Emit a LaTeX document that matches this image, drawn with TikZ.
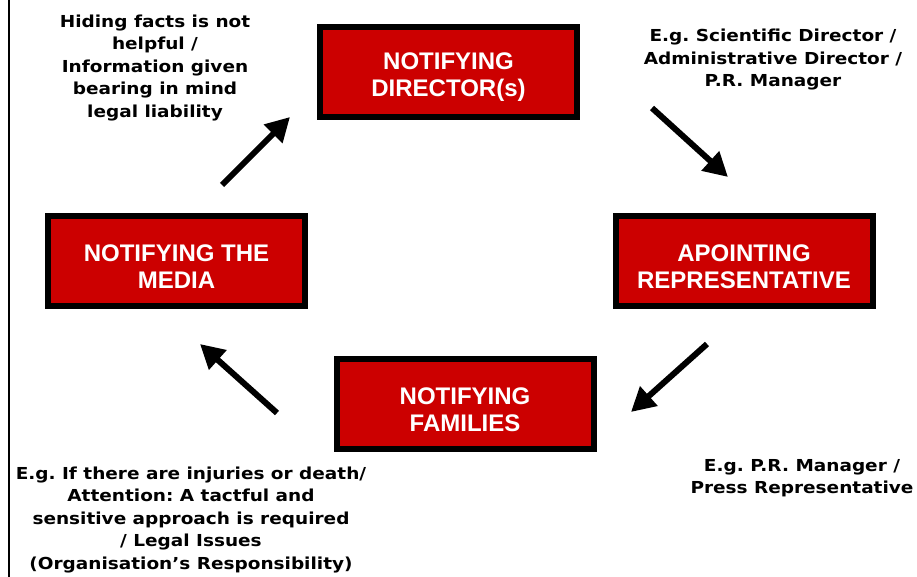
\documentclass[tikz,border=0pt]{standalone}
\usepackage{fontspec}
\setmainfont[FakeStretch=1.12]{DejaVu Sans}
\newfontfamily\boxfont{Liberation Sans}
\usetikzlibrary{arrows.meta}

\definecolor{boxred}{RGB}{204,0,0}
\newcommand{\topgap}{\rule{0pt}{28pt}}

\begin{document}
\frenchspacing
\begin{tikzpicture}[x=1pt, y=1pt,
	stage/.style={draw=black, fill=boxred, line width=6pt, rectangle,
		minimum width=257pt, minimum height=90pt, inner sep=0pt,
		align=center, text=white,
		font=\boxfont\bfseries\fontsize{24}{27}\selectfont},
	remark/.style={align=center, inner sep=0pt,
		font=\bfseries\fontsize{16.5}{22.5}\selectfont},
	flow/.style={line width=6pt, -{Triangle[length=24pt, width=25pt]}}]
	\useasboundingbox (0,0) rectangle (917,577);
	\draw[line width=2pt] (8.5,0) -- (8.5,577);

	\node[stage] (directors) at (448.5,505) {\topgap NOTIFYING\\DIRECTOR(s)};
	\node[stage] (represent) at (744,316)   {\topgap APOINTING\\REPRESENTATIVE};
	\node[stage] (families)  at (465,173)   {\topgap NOTIFYING\\FAMILIES};
	\node[stage] (media)     at (176.5,316) {\topgap NOTIFYING THE\\MEDIA};

	\node[remark] (hiding)    at (155,509) 
		{Hiding facts is not\\helpful /\\Information given\\bearing in mind\\legal liability};
	\node[remark] (directex)  at (773,517) 
		{E.g. Scientific Director /\\Administrative Director /\\P.R. Manager};
	\node[remark] (pressex)   at (802,99) 
		{E.g. P.R. Manager /\\Press Representative};
	\node[remark] (injuries)  at (191,57) 
		{E.g. If there are injuries or death/\\Attention: A tactful and\\sensitive approach is required\\/ Legal Issues\\(Organisation’s Responsibility)};

	\coordinate (arrowAtail) at (222,392);
	\coordinate (arrowAtip)  at (290,460);
	\coordinate (arrowBtail) at (652,469);
	\coordinate (arrowBtip)  at (728,400);
	\coordinate (arrowCtail) at (707,233);
	\coordinate (arrowCtip)  at (631,165);
	\coordinate (arrowDtail) at (277,164);
	\coordinate (arrowDtip)  at (200,233);

	\draw[flow] (arrowAtail) -- (arrowAtip);
	\draw[flow] (arrowBtail) -- (arrowBtip);
	\draw[flow] (arrowCtail) -- (arrowCtip);
	\draw[flow] (arrowDtail) -- (arrowDtip);
\end{tikzpicture}
\end{document}
